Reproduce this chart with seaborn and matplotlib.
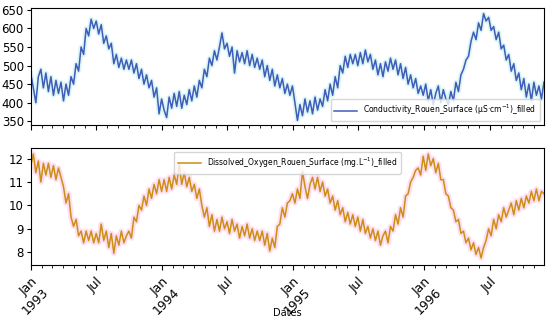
import numpy as np
import pandas as pd
import matplotlib
matplotlib.use("Agg")
import matplotlib.pyplot as plt
import matplotlib.dates as mdates
import seaborn as sns

# weekly readings (Jan 1993 -> early Dec 1996)
start_date = "1993-01-01"

conductivity = [
    # 1993
    478, 440, 400, 470, 490, 440, 480, 430, 470, 420, 460, 425, 455,
    405, 450, 420, 470, 450, 505, 485, 550, 530, 600, 580, 625, 600,
    620, 585, 610, 560, 580, 545, 560, 505, 530, 495, 520, 490, 515,
    490, 515, 480, 505, 465, 490, 450, 475, 440, 460, 415, 440, 370,
    # 1994
    410, 380, 360, 415, 385, 425, 390, 430, 385, 420, 395, 435, 405,
    445, 415, 460, 440, 490, 470, 520, 500, 540, 515, 550, 588, 545,
    560, 525, 550, 480, 540, 510, 535, 505, 540, 500, 530, 495, 520,
    490, 515, 470, 500, 460, 490, 445, 475, 440, 465, 425, 450, 420,
    # 1995
    445, 400, 352, 395, 365, 410, 375, 405, 370, 415, 380, 410, 390,
    435, 405, 450, 420, 470, 440, 500, 480, 525, 495, 530, 505, 530,
    500, 535, 505, 542, 510, 530, 490, 515, 475, 505, 470, 510, 485,
    520, 490, 515, 475, 505, 465, 495, 450, 475, 440, 465, 425, 445,
    # 1996
    420, 450, 405, 435, 395, 425, 445, 400, 435, 410, 395, 430, 405,
    455, 430, 475, 490, 515, 525, 565, 590, 570, 615, 595, 640, 620,
    630, 595, 605, 570, 590, 545, 555, 515, 530, 485, 505, 460, 480,
    435, 465, 415, 450, 405, 455, 420, 445, 410, 455,
]

oxygen = [
    # 1993
    11.7, 12.2, 11.4, 11.9, 11.0, 11.8, 11.3, 11.8, 11.2, 11.7, 11.1, 11.6, 11.2,
    10.8, 10.1, 10.5, 9.5, 9.1, 9.4, 8.7, 8.9, 8.4, 8.9, 8.5, 8.9, 8.4,
    8.8, 8.4, 9.2, 8.5, 8.9, 8.2, 8.8, 7.95, 8.7, 8.3, 8.9, 8.4, 8.7,
    8.9, 8.6, 9.5, 9.3, 10.0, 9.8, 10.4, 10.0, 10.7, 10.3, 10.9, 10.5, 11.1,
    # 1994
    10.6, 11.1, 10.6, 11.2, 10.7, 11.3, 10.9, 11.75, 10.9, 11.4, 10.8, 11.2, 10.6,
    10.9, 10.3, 10.7, 10.0, 9.5, 9.9, 9.1, 9.6, 8.9, 9.4, 8.9, 9.5, 9.0,
    9.3, 8.8, 9.4, 8.9, 9.2, 8.6, 9.1, 8.7, 9.2, 8.6, 9.0, 8.5, 8.9,
    8.5, 8.9, 8.3, 8.8, 8.05, 8.6, 8.2, 9.1, 9.2, 9.9, 9.5, 10.1, 10.2,
    # 1995
    10.5, 10.1, 10.7, 10.3, 11.45, 10.8, 10.3, 10.9, 11.2, 10.7, 11.2, 10.6, 11.0,
    10.4, 10.7, 10.1, 10.4, 9.8, 10.2, 9.6, 9.9, 9.3, 9.7, 9.2, 9.6, 9.1,
    9.5, 8.9, 9.4, 8.8, 9.1, 8.6, 9.0, 8.5, 8.9, 8.3, 8.7, 8.9, 8.4,
    9.1, 8.9, 9.6, 9.2, 9.9, 9.5, 10.4, 10.5, 11.0, 11.2, 11.5, 11.6, 11.3,
    # 1996
    12.1, 11.5, 12.2, 11.7, 12.0, 11.4, 11.8, 11.1, 11.1, 10.5, 10.4, 9.9, 9.8,
    9.3, 9.4, 8.8, 8.9, 8.4, 8.6, 8.1, 8.4, 7.9, 8.2, 7.75, 8.2, 8.5,
    9.0, 8.7, 9.4, 9.0, 9.6, 9.3, 9.9, 9.5, 9.8, 10.1, 9.6, 10.2, 9.8,
    10.3, 9.9, 10.4, 10.1, 10.6, 10.2, 10.7, 10.2, 10.6, 10.5,
]

cond_label = "Conductivity_Rouen_Surface (\u00b5S\u00b7cm$^{-1}$)_filled"
oxy_label = "Dissolved_Oxygen_Rouen_Surface (mg.L$^{-1}$)_filled"

dates = pd.date_range(start_date, periods=len(conductivity), freq="7D")
df = pd.DataFrame({"Dates": dates, "cond": conductivity, "oxy": oxygen})

fig = plt.figure(figsize=(5.5, 3.22), dpi=100)
ax1 = fig.add_axes([0.056, 0.612, 0.933, 0.363])
ax2 = fig.add_axes([0.056, 0.177, 0.933, 0.363], sharex=ax1)

# faint halo behind each line (raw series look)
sns.lineplot(data=df, x="Dates", y="cond", ax=ax1, color="#b8ecf0",
             linewidth=3.5, alpha=0.5, legend=False)
sns.lineplot(data=df, x="Dates", y="cond", ax=ax1, color="#3f5cb8",
             linewidth=1.1, label=cond_label)
sns.lineplot(data=df, x="Dates", y="oxy", ax=ax2, color="#ffc8ea",
             linewidth=4.0, alpha=0.6, legend=False)
sns.lineplot(data=df, x="Dates", y="oxy", ax=ax2, color="#cc8f14",
             linewidth=1.1, label=oxy_label)

ax1.set_ylim(340, 655)
ax1.set_yticks([350, 400, 450, 500, 550, 600, 650])
ax2.set_ylim(7.45, 12.45)
ax2.set_yticks([8, 9, 10, 11, 12])
ax1.set_xlim(dates[0], dates[-1])

for ax in (ax1, ax2):
    ax.set_ylabel("")
    ax.tick_params(axis="y", labelsize=8.5, length=3, pad=2)
    ax.xaxis.set_major_locator(mdates.MonthLocator(bymonth=[1, 7]))
    ax.xaxis.set_minor_locator(mdates.MonthLocator())
    ax.tick_params(axis="x", which="major", length=3.5)
    ax.tick_params(axis="x", which="minor", length=2)


def date_fmt(x, pos=None):
    d = mdates.num2date(x)
    if d.month == 1:
        return f"Jan\n{d.year}"
    return d.strftime("%b")


ax2.xaxis.set_major_formatter(plt.FuncFormatter(date_fmt))
ax1.tick_params(axis="x", labelbottom=False)
ax1.set_xlabel("")
plt.setp(ax2.get_xticklabels(), rotation=45, ha="right", fontsize=9,
         rotation_mode="anchor")
ax2.set_xlabel("Dates", fontsize=7, va="center")
ax2.xaxis.set_label_coords(0.5, -0.41)

ax1.legend(loc="lower right", fontsize=5.5, handlelength=3, borderpad=0.5)
ax2.legend(loc="upper center", fontsize=5.5, handlelength=3, borderpad=0.5)

fig.savefig("out.png", dpi=100)
